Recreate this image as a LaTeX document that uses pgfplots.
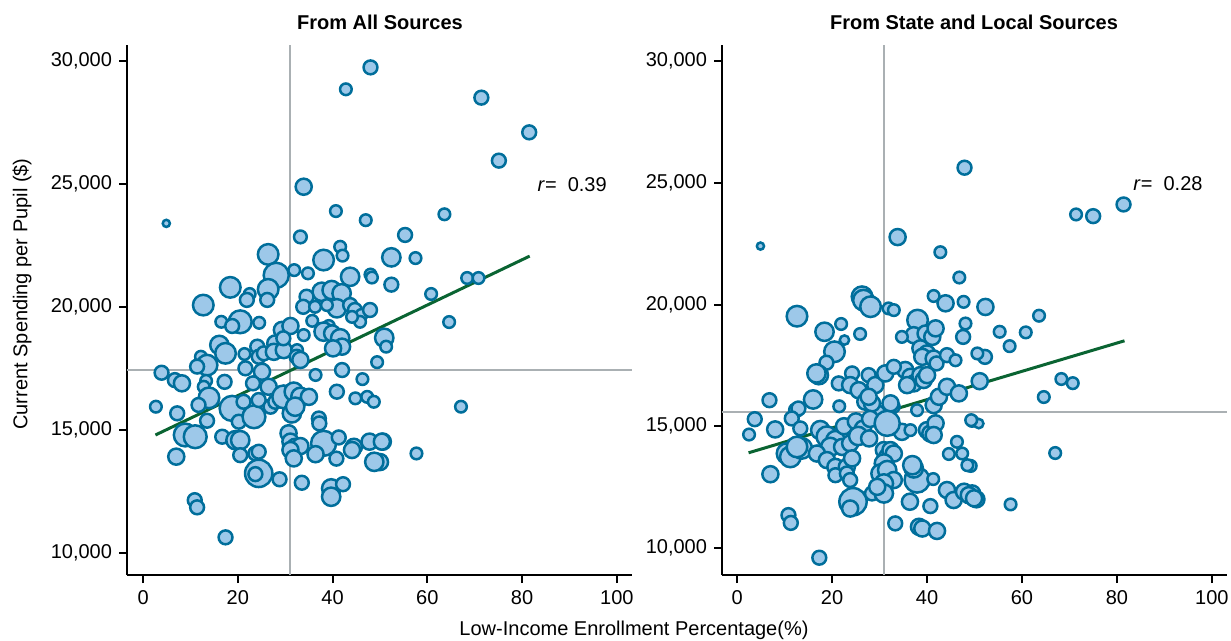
\documentclass[border=0pt]{standalone}
\usepackage{fontspec}
\setmainfont{Liberation Sans}
\usepackage{pgfplots}
\pgfplotsset{compat=1.18}
\usepackage{pgfplotstable}
\definecolor{edgeblue}{RGB}{0,110,155}
\definecolor{fillblue}{RGB}{157,200,233}
\definecolor{fitgreen}{RGB}{10,100,50}
\definecolor{refgray}{RGB}{170,176,179}

\pgfplotstableread{
x y s
4.9 23400 4
42.8 28850 6
48.0 29740 7
33.9 24890 8
40.7 23900 6
47.0 23530 6
33.2 22850 6.5
26.4 22140 10
38.1 21910 10
41.6 22450 6
42.1 22090 6
31.9 21500 6
34.8 21370 6
28.1 21290 12
43.7 21230 9
18.4 20800 10
26.4 20720 10
22.5 20530 6
21.9 20290 7
26.2 20290 7
12.7 20080 10
48.0 21320 6
48.3 21200 6
37.7 20620 9
39.8 20690 9
41.9 20560 9
40.9 19950 9
52.4 22020 9
57.5 21990 6
52.4 20910 7
60.8 20530 6
63.6 23770 6
55.3 22930 7
68.4 21180 6
70.8 21180 6
71.4 28510 7
75.1 25950 7
81.5 27100 7
64.6 19390 6
50.9 18750 9
51.3 18390 6
49.4 17760 6
67.1 15950 6
57.7 14050 6
50.6 14530 8
50.0 13700 8
34.5 20420 7
33.8 20010 7
36.3 20010 6
38.8 20080 6
43.7 20080 7
44.7 19880 7
46.1 19680 6
47.9 19880 7
45.8 19400 6
16.5 19400 6
20.5 19400 11
18.8 19230 7
24.5 19360 6
35.7 19440 6
39.2 19230 6
44.1 19600 6
29.3 19070 8
31.1 19230 8
33.9 18860 6
38.1 19000 9
39.9 18930 8
41.6 18730 9
42.0 18390 8
40.1 18320 8
16.1 18460 9
17.4 18120 10
12.2 17980 6
21.4 18090 6
24.1 18390 7
24.4 17980 7
25.5 18120 7
27.9 18520 8
27.6 18180 8
29.7 18250 8
29.6 18730 7
32.5 18250 6
32.4 17980 7
33.2 17850 8
13.5 17640 10
11.4 17580 7
21.6 17510 7
25.1 17370 8
3.9 17330 7
6.7 17030 7
8.2 16900 8
13.3 17000 6
12.8 16760 6
17.2 16960 7
23.2 16900 7
26.5 16760 8
36.4 17240 6
42.0 17440 7
46.3 17070 6
13.9 16310 10
11.7 16020 7
2.7 15950 6
7.2 15680 7
13.5 15380 7
18.8 15880 12
20.2 15340 7
23.4 15540 11
21.2 16150 7
24.4 16220 7
26.9 15950 7
27.9 16150 7
29.7 16350 11
31.8 16560 9
33.2 16350 9
35.0 16350 8
31.4 15680 9
32.1 15950 9
37.1 15470 7
37.2 15270 7
40.9 16560 7
44.8 16290 6
47.3 16350 6
48.7 16150 6
8.9 14800 11
11.0 14730 11
7.0 13920 8
16.7 14730 7
19.5 14590 9
20.5 14590 9
20.5 13980 7
23.7 14050 7
24.4 14120 7
24.4 13240 13
23.7 13210 7
28.8 13000 7
30.7 14870 8
31.1 14530 8
32.1 14320 8
33.2 14350 8
31.1 14190 8
31.8 13850 8
38.1 14460 12
36.4 14020 8
41.3 14700 7
40.8 13840 7
44.5 14320 8
44.1 14190 8
47.8 14530 8
50.4 14530 8
48.8 13710 9
33.5 12860 7
39.7 12630 9
39.7 12290 9
42.2 12800 7
10.9 12150 7
11.4 11860 7
17.4 10640 7
}\leftdata

\pgfplotstableread{
x y s
4.9 22400 4
33.8 22770 8
47.9 25620 7
42.8 22150 6
46.8 21110 6
41.4 20350 6
43.9 20050 8
47.7 20110 6
26.3 20320 10
26.6 20180 10
28.1 19910 10
31.9 19840 6
33.0 19770 6
71.4 23700 6
75.0 23630 7
81.4 24110 7
52.3 19900 8
63.6 19540 6
55.3 18880 6
60.8 18855 6
57.4 18290 6
52.2 17850 7
51.1 16850 8
68.3 16940 6
70.7 16770 6
64.6 16200 6
49.5 15220 6
50.9 15110 5
67.0 13900 6
49.2 13370 6
49.5 12240 8
50.4 12000 8
57.6 11790 6
12.6 19520 10
18.4 18880 9
21.9 19200 6
22.6 18540 5
25.9 18790 6
20.5 18060 10
18.8 17610 7
17.2 17100 9
16.7 17170 9
16.0 16100 9
6.8 16070 7
12.4 15660 7
12.9 15730 7
11.5 15320 7
13.3 14910 7
21.5 15820 6
3.7 15290 7
2.5 14660 6
8.0 14870 8
7.0 13030 8
10.5 13880 10
11.2 13740 10
13.6 14090 10
12.6 14150 10
17.5 14840 9
18.9 14570 10
20.7 14430 9
19.6 14150 9
22.1 14150 8
23.8 14300 8
16.8 13880 8
18.9 13610 8
20.7 13330 8
23.1 13330 8
24.2 13680 8
20.7 12990 7
23.1 13060 7
23.8 12790 7
24.4 11900 13
23.8 11620 8
28.4 12240 7
33.3 11010 7
38.3 10870 8
39.0 10800 8
42.1 10700 8
10.8 11350 7
11.3 11030 7
17.3 9600 7
29.5 15530 8
33.0 15800 6
34.7 14770 8
36.5 14840 6
30.9 14020 8
31.6 13740 8
32.3 14020 8
33.0 13880 8
30.9 13470 9
30.2 13060 9
31.6 13200 9
33.0 12790 8
30.9 12650 9
30.9 12240 9
29.5 12510 8
37.9 12790 12
37.2 13270 9
36.9 13400 9
41.3 12830 6
36.4 11900 8
40.7 11720 7
40.0 14840 8
40.7 14700 8
41.8 15120 8
41.4 14640 8
46.3 14360 6
44.6 13860 6
47.4 13880 6
48.5 13400 6
49.3 15250 6
44.2 12380 8
45.6 11970 8
47.8 12310 8
48.8 12170 8
49.9 12040 8
38.0 19360 10
37.2 18740 8
39.7 18810 8
41.1 18670 8
41.8 19020 8
34.7 18670 6
38.6 18200 8
40.0 17990 8
39.0 17850 8
41.4 17780 8
42.0 17580 7
44.2 17920 7
46.0 17710 6
48.1 19220 6
47.6 18670 7
50.6 17990 6
35.4 17310 8
36.5 17030 8
37.2 16760 8
38.6 17100 8
39.3 16900 8
40.0 17100 8
41.4 15870 8
42.5 16210 8
44.2 16620 8
46.7 16350 8
37.9 15660 6
21.4 16760 7
24.2 17170 7
23.8 16690 8
25.6 16480 8
27.7 17100 7
29.1 16690 8
31.2 17170 8
33.0 17440 7
35.8 16690 8
27.0 16010 8
28.4 15940 8
27.7 16210 8
32.3 15940 8
22.5 15000 8
25.0 15200 8
26.5 14900 8
28.0 15300 8
25.5 14600 9
27.8 14500 8
31.6 15120 12
}\rightdata

\pgfplotsset{
  myaxis/.style={
    scale only axis, width=252.5pt, height=265pt,
    axis x line*=bottom, axis y line*=left,
    axis line style={-, line width=1pt, black},
    tick align=outside, major tick length=4pt,
    tick style={line width=1pt, black},
    xtick={0,20,40,60,80,100},
    ytick={10000,15000,20000,25000,30000},
    scaled y ticks=false,
    /pgf/number format/1000 sep={,},
    /pgf/number format/assume math mode=true,
    ticklabel style={font=\fontsize{10}{12}\selectfont},
    clip=false,
  },
  bubbles/.style={only marks, scatter, mark=*, line width=1.25pt,
    scatter/use mapped color={draw=edgeblue, fill=fillblue},
    visualization depends on={0.56*\thisrow{s}-0.45 \as \ms},
    scatter/@pre marker code/.append style={/tikz/mark size=\ms}},
}

\begin{document}
\begin{tikzpicture}
\path[use as bounding box] (0,0) rectangle (615.5pt,-320.5pt);

\begin{axis}[myaxis, at={(63.5pt,-287.5pt)}, anchor=south west,
  xmin=-3.4, xmax=103.2, ymin=9110, ymax=30650]
  \addplot[refgray, line width=1pt] coordinates {(31,9110) (31,30650)};
  \addplot[refgray, line width=1pt] coordinates {(-3.4,17440) (103.2,17440)};
  \addplot[bubbles] table[x=x, y=y] {\leftdata};
  \addplot[fitgreen, line width=1.5pt] coordinates {(2.6,14800) (81.6,22070)};
  \node[anchor=west] at (axis cs:81.8,24960) {\textit{r}=\ \ 0.39};
\end{axis}

\begin{axis}[myaxis, at={(361pt,-287.5pt)}, anchor=south west,
  xmin=-3.2, xmax=103.2, ymin=8890, ymax=30660]
  \addplot[refgray, line width=1pt] coordinates {(31,8890) (31,30660)};
  \addplot[refgray, line width=1pt] coordinates {(-3.2,15570) (103.2,15570)};
  \addplot[bubbles] table[x=x, y=y] {\rightdata};
  \addplot[fitgreen, line width=1.5pt] coordinates {(2.4,13910) (81.6,18510)};
  \node[anchor=west] at (axis cs:82.0,24950) {\textit{r}=\ \ 0.28};
\end{axis}

\node[font=\bfseries] at (190pt,-11pt) {From All Sources};
\node[font=\bfseries] at (487pt,-11pt) {From State and Local Sources};
\node[rotate=90] at (11pt,-147pt) {Current Spending per Pupil (\$)};
\node at (317pt,-315pt) {Low-Income Enrollment Percentage(\%)};
\end{tikzpicture}
\end{document}
